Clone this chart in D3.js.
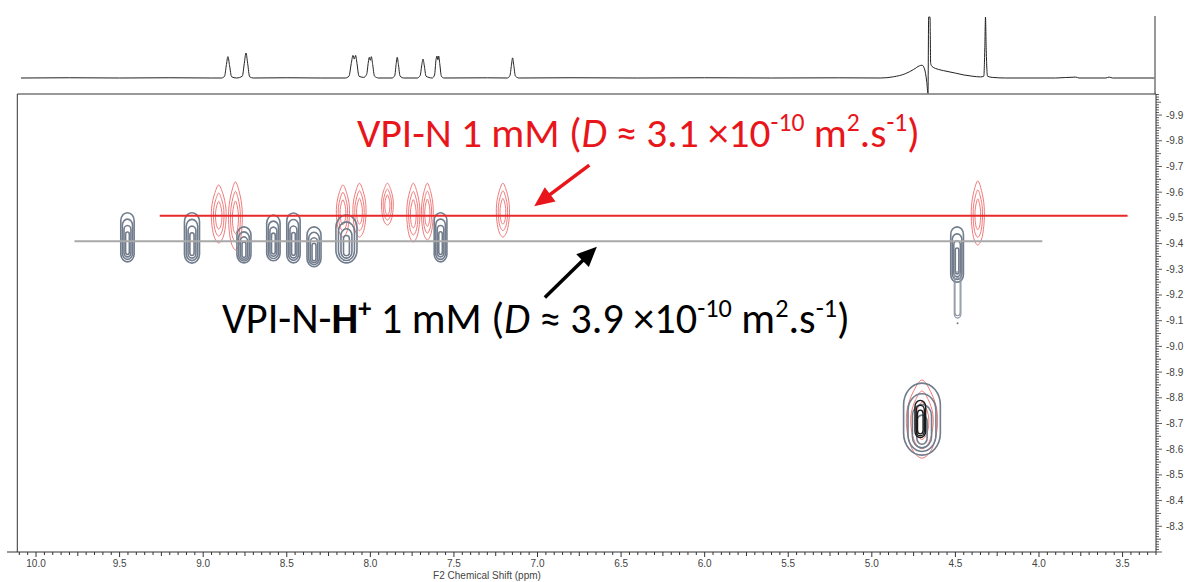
<!DOCTYPE html>
<html>
<head>
<meta charset="utf-8">
<script src="https://cdn.jsdelivr.net/npm/d3@7"></script>
<style>
  body { margin: 0; background: #fff; }
  svg { display: block; }
  text { white-space: pre; }
</style>
</head>
<body>
<svg id="chart" width="1192" height="582"></svg>
<script>
// ---- axis tick labels ----
const ppmTicks = [10.0, 9.5, 9.0, 8.5, 8.0, 7.5, 7.0, 6.5, 6.0, 5.5, 5.0, 4.5, 4.0, 3.5];
const logDTicks = [-9.9, -9.8, -9.7, -9.6, -9.5, -9.4, -9.3, -9.2, -9.1, -9.0,
                   -8.9, -8.8, -8.7, -8.6, -8.5, -8.4, -8.3];

// ---- 1H projection trace: [ppm, relative intensity] ----
const projection = [
  [10.09, 0], [9.80, 0.004], [9.50, 0], [9.20, 0.004], [8.95, 0],
  [8.89, 0], [8.872, 0.03], [8.862, 0.20], [8.852, 0.35], [8.842, 0.20], [8.830, 0.02],
  [8.80, 0], [8.766, 0.03], [8.754, 0.24], [8.744, 0.41], [8.734, 0.24], [8.722, 0.02], [8.70, 0],
  [8.50, 0.004], [8.30, 0], [8.15, 0],
  [8.128, 0.03], [8.114, 0.24], [8.104, 0.37], [8.096, 0.31], [8.088, 0.37], [8.080, 0.24], [8.068, 0.03],
  [8.04, 0.01], [8.022, 0.06], [8.012, 0.26], [8.006, 0.34], [8.000, 0.29], [7.994, 0.35], [7.986, 0.22], [7.975, 0.03], [7.95, 0],
  [7.87, 0], [7.854, 0.04], [7.846, 0.22], [7.839, 0.34], [7.832, 0.22], [7.822, 0.03], [7.80, 0],
  [7.72, 0], [7.702, 0.04], [7.693, 0.20], [7.685, 0.31], [7.677, 0.20], [7.667, 0.03],
  [7.63, 0], [7.616, 0.05], [7.607, 0.30], [7.601, 0.36], [7.596, 0.30], [7.591, 0.36], [7.585, 0.24], [7.575, 0.03], [7.56, 0],
  [7.30, 0.003], [7.18, 0], [7.165, 0.04], [7.156, 0.21], [7.149, 0.33], [7.142, 0.21], [7.132, 0.03], [7.11, 0],
  [6.80, 0.004], [6.40, 0], [6.00, 0.004], [5.60, 0], [5.20, 0.003], [4.95, 0],
  [4.87, 0.02], [4.80, 0.07], [4.75, 0.14], [4.715, 0.20], [4.700, 0.21], [4.685, 0.15],
  [4.672, -0.05], [4.664, -0.25], [4.660, 1.0], [4.652, 1.0], [4.648, 0.24], [4.640, 0.19],
  [4.60, 0.14], [4.57, 0.12], [4.50, 0.08], [4.45, 0.05], [4.40, 0.03], [4.35, 0.018],
  [4.330, 0.03], [4.324, 0.5], [4.320, 1.0], [4.316, 0.5], [4.308, 0.03], [4.28, 0.01], [4.20, 0],
  [3.90, 0], [3.78, 0.015], [3.76, 0], [3.60, 0], [3.58, 0.015], [3.56, 0], [3.31, 0]
];

// ---- diffusion bands (D in m^2/s) and their ppm extent ----
const bandNames = ["VPI-N", "VPI-N-H+"];
const bandD = [3.1e-10, 3.9e-10];
const bandFrom = [9.26, 9.77];
const bandTo = [3.47, 3.98];

// ---- cross peaks: [ppm, log D top, log D bottom, half width (ppm)] ----
const protonatedPeaks = [
  [9.453, -9.520, -9.329, 0.040],
  [9.067, -9.520, -9.324, 0.045],
  [8.756, -9.465, -9.325, 0.042],
  [8.580, -9.511, -9.333, 0.040],
  [8.460, -9.519, -9.325, 0.040],
  [8.337, -9.465, -9.310, 0.042],
  [8.143, -9.511, -9.325, 0.063],
  [7.580, -9.520, -9.329, 0.038],
  [4.490, -9.465, -9.250, 0.038],
  [4.700, -8.857, -8.577, 0.110]
];
const protonatedTail = [
  [4.487, -9.290, -9.110, 0.020]
];
const waterCore = [
  [4.710, -8.790, -8.645, 0.032]
];
const neutralPeaks = [
  [8.907, -9.628, -9.402, 0.045],
  [8.807, -9.640, -9.375, 0.042],
  [8.164, -9.628, -9.425, 0.040],
  [8.065, -9.635, -9.425, 0.040],
  [7.898, -9.635, -9.472, 0.036],
  [7.743, -9.635, -9.406, 0.040],
  [7.659, -9.635, -9.414, 0.036],
  [7.207, -9.635, -9.425, 0.040],
  [4.366, -9.644, -9.394, 0.040],
  [4.700, -8.869, -8.565, 0.095]
];

// ---- annotation anchors in data units: [ppm, log D] ----
const redLabelAt = [8.08, -9.775];
const blackLabelAt = [8.888, -9.052];
const redArrow = [[6.69, -9.705], [7.02, -9.545]];
const blackArrow = [[6.956, -9.190], [6.645, -9.388]];

// ================= drawing =================
const svg = d3.select("#chart");

const x = d3.scaleLinear().domain([10.112, 3.30]).range([17.3, 1156]);
const y = d3.scaleLinear().domain([-9.982, -8.2]).range([94, 552]);
const yProj = d3.scaleLinear().domain([0, 1]).range([78, 17]);

const axisColor = "#333";
const labelFont = "'Liberation Sans', Arial, sans-serif";

// projection trace
svg.append("path")
  .datum(projection)
  .attr("fill", "none")
  .attr("stroke", "#222")
  .attr("stroke-width", 1)
  .attr("d", d3.line().x(d => x(d[0])).y(d => yProj(d[1])).curve(d3.curveMonotoneX));

// right edge of the projection panel
svg.append("line")
  .attr("x1", x(3.30) - 1).attr("x2", x(3.30) - 1)
  .attr("y1", yProj(1) - 1).attr("y2", y(-9.982))
  .attr("stroke", "#333").attr("stroke-width", 1);

// plot frame: top and left
svg.append("path")
  .attr("fill", "none").attr("stroke", "#333").attr("stroke-width", 1)
  .attr("d", `M${x(10.112)},${y(-8.2)}V${y(-9.982)}H${x(3.30)}`);

// ---- contour shapes ----
const g = svg.append("g");

function lensPath(cx, yTop, yBot, w) {
  const cy = (yTop + yBot) / 2, h = (yBot - yTop) / 2;
  const pts = [[0, -1], [0.55, -0.7], [0.95, -0.2], [0.9, 0.4], [0.5, 0.85], [0, 1],
               [-0.5, 0.85], [-0.9, 0.4], [-0.95, -0.2], [-0.55, -0.7]];
  return d3.line().curve(d3.curveCatmullRomClosed)(pts.map(p => [cx + p[0] * w, cy + p[1] * h]));
}

// neutral species (red), drawn underneath
neutralPeaks.forEach(p => {
  const cx = x(p[0]), yt = y(p[1]), yb = y(p[2]);
  const w = Math.abs(x(p[0] - p[3]) - cx);
  const hh = yb - yt;
  for (let k = 0; k < 3; k++) {
    const sx = w * (1 - 0.28 * k);
    const t = yt + hh * 0.14 * k, b = yb - hh * 0.12 * k;
    g.append("path")
      .attr("d", lensPath(cx, t, b, sx))
      .attr("fill", "none")
      .attr("stroke", "#f07a7a")
      .attr("stroke-width", 1);
  }
});

// protonated species (grey)
function pills(list, color, rings, sw) {
  list.forEach(p => {
    const cx = x(p[0]), yt = y(p[1]), yb = y(p[2]);
    const w = Math.abs(x(p[0] - p[3]) - cx);
    const hh = yb - yt;
    for (let k = 0; k < rings; k++) {
      const sx = Math.max(w * (1 - 0.24 * k), 1.2);
      const t = yt + hh * 0.11 * k + w * 0.15 * k, b = yb - hh * 0.05 * k;
      if (b - t < 2) continue;
      g.append("rect")
        .attr("x", cx - sx).attr("y", t)
        .attr("width", 2 * sx).attr("height", b - t)
        .attr("rx", sx).attr("ry", Math.min(sx * 1.2, (b - t) / 2))
        .attr("fill", "none")
        .attr("stroke", color)
        .attr("stroke-width", sw);
    }
  });
}
pills(protonatedPeaks, "#717c8c", 4, 1.6);
pills(protonatedTail, "#8a94a2", 2, 1.1);
pills(waterCore, "#1a1a1a", 3, 1.4);

// tail end of the 4.49 ppm signal
g.append("circle")
  .attr("cx", x(4.487)).attr("cy", y(-9.09)).attr("r", 1)
  .attr("fill", "#717c8c");

// ---- diffusion coefficient lines ----
const bandColors = ["#e8292b", "#a9a9a9"];
bandD.forEach((D, i) => {
  svg.append("line")
    .attr("x1", x(bandFrom[i])).attr("x2", x(bandTo[i]))
    .attr("y1", y(Math.log10(D))).attr("y2", y(Math.log10(D)))
    .attr("stroke", bandColors[i])
    .attr("stroke-width", 2);
});

// ---- x axis (F2) ----
const axY = y(-8.2);
const xa = svg.append("g");
xa.append("line").attr("x1", 7).attr("x2", x(3.30)).attr("y1", axY).attr("y2", axY)
  .attr("stroke", axisColor).attr("stroke-width", 1);
d3.range(66, 203).forEach(i => {
  const v = i * 0.05;
  const major = i % 10 === 0, mid = i % 5 === 0;
  xa.append("line")
    .attr("x1", x(v)).attr("x2", x(v))
    .attr("y1", axY).attr("y2", axY + (major ? 5 : mid ? 4 : 3))
    .attr("stroke", axisColor).attr("stroke-width", 1);
});
xa.selectAll("text.tick").data(ppmTicks).join("text")
  .attr("x", d => x(d)).attr("y", axY + 15)
  .attr("text-anchor", "middle")
  .attr("font-family", labelFont).attr("font-size", 10).attr("fill", "#444")
  .text(d => d.toFixed(1));
xa.append("text")
  .attr("x", 487).attr("y", 579)
  .attr("text-anchor", "middle")
  .attr("font-family", labelFont).attr("font-size", 10).attr("fill", "#444")
  .text("F2 Chemical Shift (ppm)");

// ---- y axis (log D) on the right ----
const axX = x(3.30);
const ya = svg.append("g");
ya.append("line").attr("x1", axX).attr("x2", axX).attr("y1", y(-9.982)).attr("y2", axY)
  .attr("stroke", axisColor).attr("stroke-width", 1);
d3.range(-998, -819).forEach(i => {
  const v = i / 100;
  const major = i % 10 === 0, mid = i % 5 === 0;
  ya.append("line")
    .attr("x1", axX).attr("x2", axX + (major ? 6 : mid ? 5 : 3))
    .attr("y1", y(v)).attr("y2", y(v))
    .attr("stroke", axisColor).attr("stroke-width", 0.8);
});
ya.selectAll("text.tick").data(logDTicks).join("text")
  .attr("x", axX + 10).attr("y", d => y(d))
  .attr("dy", "0.35em")
  .attr("font-family", labelFont).attr("font-size", 10).attr("fill", "#444")
  .text(d => d.toFixed(1));

// ---- annotations ----
const annFont = "Carlito, Lato, 'Open Sans', sans-serif";

function richLabel(parts, px, py, color, fs) {
  const t = svg.append("text")
    .attr("x", px).attr("y", py)
    .attr("font-family", annFont).attr("font-size", fs).attr("fill", color);
  let raised = false;
  parts.forEach(p => {
    const s = t.append("tspan").text(p.t);
    if (p.italic) s.attr("font-style", "italic");
    if (p.bold) s.attr("font-weight", "bold");
    if (p.sup && !raised) { s.attr("dy", -fs * 0.38); raised = true; }
    else if (!p.sup && raised) { s.attr("dy", fs * 0.38); raised = false; }
    if (p.sup) s.attr("font-size", fs * 0.62);
  });
  return t;
}
function fittedLabel(parts, px, py, color, targetW) {
  let t = richLabel(parts, px, py, color, 32);
  const w = t.node().getComputedTextLength();
  t.remove();
  return richLabel(parts, px, py, color, 32 * targetW / w);
}

const redParts = [
  { t: "VPI-N 1 mM (" }, { t: "D", italic: true }, { t: " ≈ 3.1 ×10" },
  { t: "-10", sup: true }, { t: " m" }, { t: "2", sup: true }, { t: ".s" },
  { t: "-1", sup: true }, { t: ")" }
];
const blackParts = [
  { t: "VPI-N-" }, { t: "H", bold: true }, { t: "+", bold: true, sup: true },
  { t: " 1 mM (" }, { t: "D", italic: true }, { t: " ≈ 3.9 ×10" },
  { t: "-10", sup: true }, { t: " m" }, { t: "2", sup: true }, { t: ".s" },
  { t: "-1", sup: true }, { t: ")" }
];
fittedLabel(redParts, x(redLabelAt[0]), y(redLabelAt[1]), "#e8161b", 563);
fittedLabel(blackParts, x(blackLabelAt[0]), y(blackLabelAt[1]), "#000", 628);

function arrow(a, color) {
  const x0 = x(a[0][0]), y0 = y(a[0][1]), x1 = x(a[1][0]), y1 = y(a[1][1]);
  const ang = Math.atan2(y1 - y0, x1 - x0);
  const L = 20, Wd = 9;
  const bx = x1 - L * Math.cos(ang), by = y1 - L * Math.sin(ang);
  svg.append("line")
    .attr("x1", x0).attr("y1", y0).attr("x2", bx + 2 * Math.cos(ang)).attr("y2", by + 2 * Math.sin(ang))
    .attr("stroke", color).attr("stroke-width", 3.5);
  svg.append("path")
    .attr("d", `M${x1},${y1}L${bx - Wd * Math.sin(ang)},${by + Wd * Math.cos(ang)}L${bx + Wd * Math.sin(ang)},${by - Wd * Math.cos(ang)}Z`)
    .attr("fill", color);
}
arrow(redArrow, "#e8161b");
arrow(blackArrow, "#000");
</script>
</body>
</html>
